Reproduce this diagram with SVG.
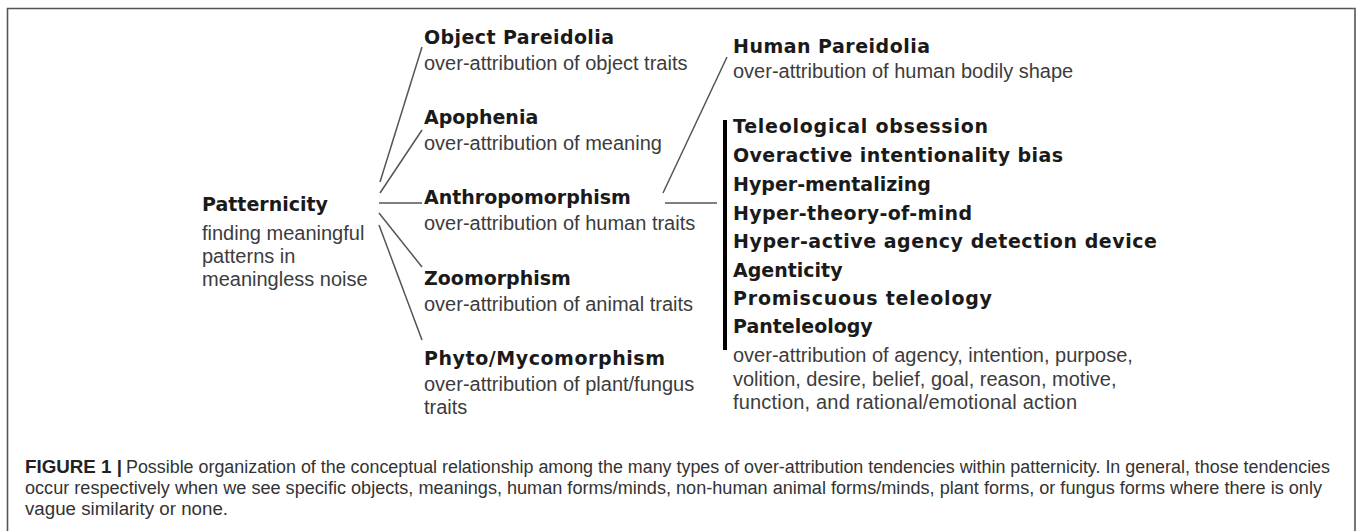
<svg xmlns="http://www.w3.org/2000/svg" width="1357" height="531" viewBox="0 0 1357 531">
<style>
.t{font-family:"DejaVu Sans",Verdana,sans-serif;font-weight:bold;font-size:19px;fill:#1a1a1a}
.s{font-family:"Liberation Sans",Arial,sans-serif;font-size:20px;fill:#3c3c3c}
.c{font-family:"Liberation Sans",Arial,sans-serif;font-size:18px;fill:#333}
.cb{font-family:"Liberation Sans",Arial,sans-serif;font-size:18px;font-weight:bold;fill:#222}
.ln{stroke:#555;stroke-width:1.5;fill:none}
</style>
<rect width="1357" height="531" fill="#fff"/>
<g id="frame" stroke="#555" stroke-width="1.6" fill="none">
<path d="M7.5 531 V8.5 H1355 V531"/>
</g>
<g id="connectors" class="ln">
<line x1="380" y1="182" x2="422" y2="47"/>
<line x1="380" y1="193" x2="422" y2="130"/>
<line x1="379" y1="203" x2="422" y2="203"/>
<line x1="379" y1="213" x2="422" y2="267"/>
<line x1="379" y1="225" x2="422" y2="340"/>
<line x1="665" y1="203" x2="717" y2="203"/>
<line x1="663" y1="193" x2="727" y2="57"/>
<line x1="725" y1="120" x2="725" y2="350" stroke="#000" stroke-width="4"/>
</g>
<g id="patternicity">
<text class="t" x="202" y="211">Patternicity</text>
<text class="s" x="202" y="240">finding meaningful</text>
<text class="s" x="202" y="263">patterns in</text>
<text class="s" x="202" y="286">meaningless noise</text>
</g>
<g id="object-pareidolia">
<text class="t" x="424" y="44" textLength="190">Object Pareidolia</text>
<text class="s" x="424" y="70">over-attribution of object traits</text>
</g>
<g id="apophenia">
<text class="t" x="424" y="124">Apophenia</text>
<text class="s" x="424" y="150">over-attribution of meaning</text>
</g>
<g id="anthropomorphism">
<text class="t" x="424" y="204">Anthropomorphism</text>
<text class="s" x="424" y="230">over-attribution of human traits</text>
</g>
<g id="zoomorphism">
<text class="t" x="424" y="285">Zoomorphism</text>
<text class="s" x="424" y="311">over-attribution of animal traits</text>
</g>
<g id="phyto-mycomorphism">
<text class="t" x="424" y="365" textLength="241">Phyto/Mycomorphism</text>
<text class="s" x="424" y="391">over-attribution of plant/fungus</text>
<text class="s" x="424" y="414">traits</text>
</g>
<g id="human-pareidolia">
<text class="t" x="733" y="53" textLength="197">Human Pareidolia</text>
<text class="s" x="733" y="78">over-attribution of human bodily shape</text>
</g>
<g id="agency">
<text class="t" x="733" y="133" textLength="255">Teleological obsession</text>
<text class="t" x="733" y="162" textLength="330">Overactive intentionality bias</text>
<text class="t" x="733" y="191">Hyper-mentalizing</text>
<text class="t" x="733" y="220" textLength="239">Hyper-theory-of-mind</text>
<text class="t" x="733" y="248" textLength="424">Hyper-active agency detection device</text>
<text class="t" x="733" y="277">Agenticity</text>
<text class="t" x="733" y="305" textLength="259">Promiscuous teleology</text>
<text class="t" x="733" y="333">Panteleology</text>
<text class="s" x="733" y="362">over-attribution of agency, intention, purpose,</text>
<text class="s" x="733" y="386">volition, desire, belief, goal, reason, motive,</text>
<text class="s" x="733" y="409" textLength="344">function, and rational/emotional action</text>
</g>
<g id="caption">
<text class="cb" x="25" y="473" textLength="97" lengthAdjust="spacingAndGlyphs">FIGURE 1 |</text>
<text class="c" x="126" y="473" textLength="1204" lengthAdjust="spacingAndGlyphs">Possible organization of the conceptual relationship among the many types of over-attribution tendencies within patternicity. In general, those tendencies</text>
<text class="c" x="25" y="494" textLength="1297" lengthAdjust="spacingAndGlyphs">occur respectively when we see specific objects, meanings, human forms/minds, non-human animal forms/minds, plant forms, or fungus forms where there is only</text>
<text class="c" x="25" y="515" textLength="203" lengthAdjust="spacingAndGlyphs">vague similarity or none.</text>
</g>
</svg>
